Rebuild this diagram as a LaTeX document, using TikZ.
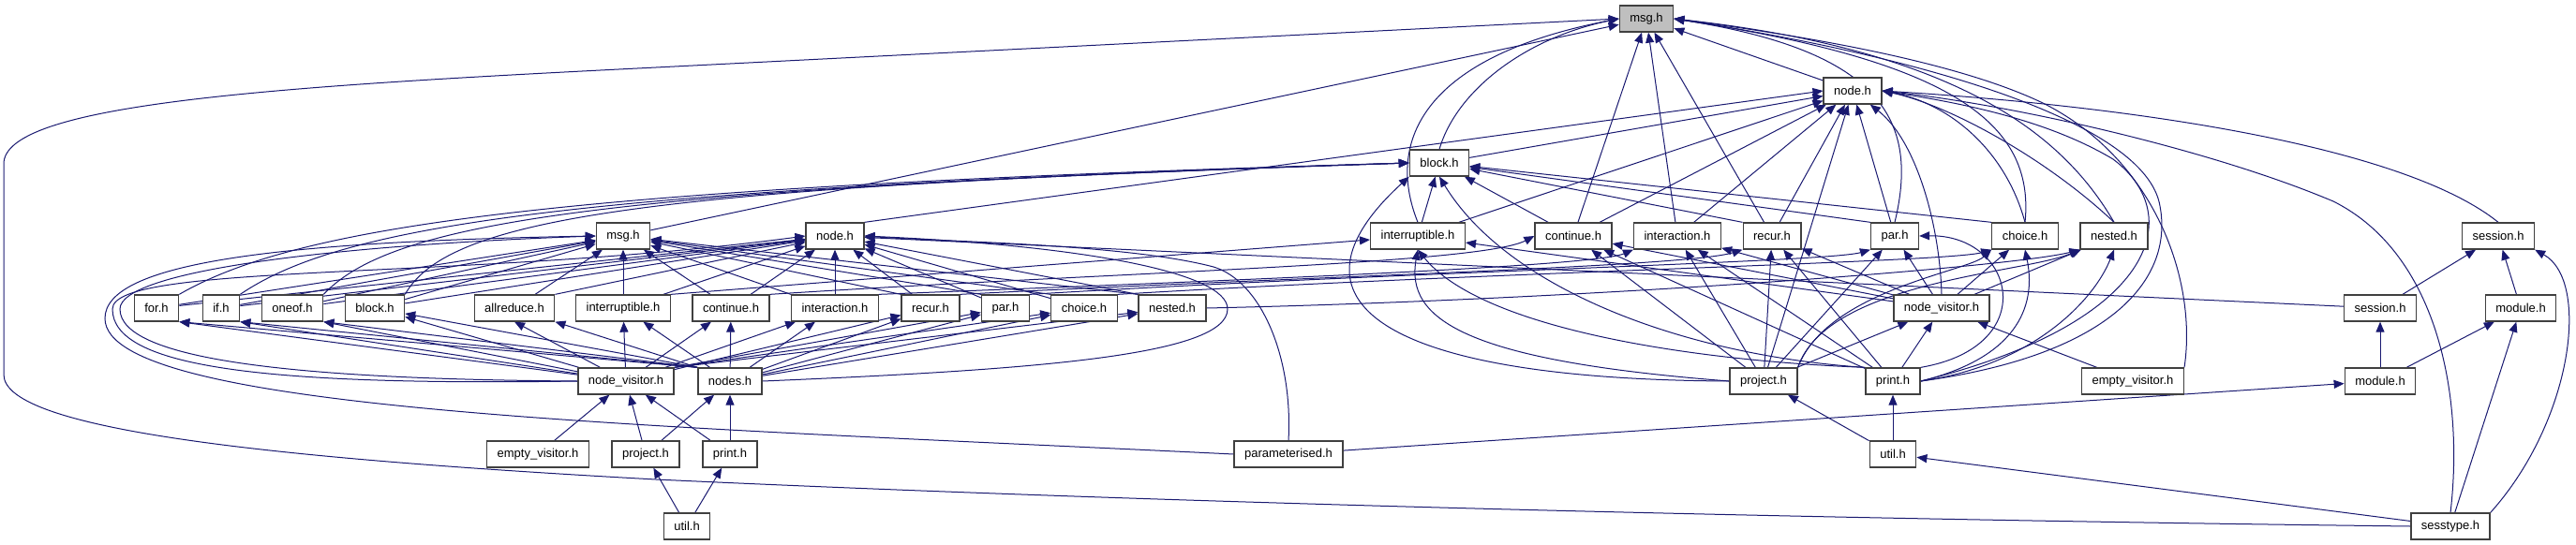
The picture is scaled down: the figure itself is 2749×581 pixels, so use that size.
\documentclass[tikz,border=0pt]{standalone}
\usepackage{fontspec}
\setmainfont{Liberation Sans}
\usetikzlibrary{arrows.meta, backgrounds}
\definecolor{incblue}{RGB}{25,25,112}
\definecolor{boxedge}{RGB}{64,64,64}
\definecolor{boxgray}{RGB}{191,191,191}
\begin{document}
\begin{tikzpicture}[x = 1pt, y = -1pt,
        hfile/.style = {draw = boxedge, fill = white, line width = 1.3pt, minimum height = 28pt, inner xsep = 11pt, inner ysep = 0pt, font = \fontsize{13}{15}\selectfont},
        inc/.style = {draw = incblue, line width = 1pt, -{Triangle[length = 11pt, width = 9pt]}}]

        \useasboundingbox (0, 0) rectangle (2749, 581);

        \draw (1757, 20) node[hfile, fill = boxgray] (msgA) {msg.h};
        \draw (1977, 97) node[hfile] (nodeA) {node.h};
        \draw (1536, 174) node[hfile] (blockA) {block.h};
        \draw (665, 252) node[hfile] (msgB) {msg.h};
        \draw (891, 252) node[hfile] (nodeB) {node.h};
        \draw (1513, 252) node[hfile] (intrA) {interruptible.h};
        \draw (1679, 252) node[hfile] (contA) {continue.h};
        \draw (1790, 252) node[hfile] (interA) {interaction.h};
        \draw (1891, 252) node[hfile] (recurA) {recur.h};
        \draw (2022, 252) node[hfile] (parA) {par.h};
        \draw (2161, 252) node[hfile] (choiceA) {choice.h};
        \draw (2256, 252) node[hfile] (nestedA) {nested.h};
        \draw (2666, 252) node[hfile] (sessA) {session.h};
        \draw (167, 329) node[hfile] (forB) {for.h};
        \draw (236, 329) node[hfile] (ifB) {if.h};
        \draw (312, 329) node[hfile] (oneofB) {oneof.h};
        \draw (400, 329) node[hfile] (blockB) {block.h};
        \draw (549, 329) node[hfile] (allredB) {allreduce.h};
        \draw (665, 329) node[hfile] (intrB) {interruptible.h};
        \draw (780, 329) node[hfile] (contB) {continue.h};
        \draw (891, 329) node[hfile] (interB) {interaction.h};
        \draw (993, 329) node[hfile] (recurB) {recur.h};
        \draw (1073, 329) node[hfile] (parB) {par.h};
        \draw (1157, 329) node[hfile] (choiceB) {choice.h};
        \draw (1251, 329) node[hfile] (nestedB) {nested.h};
        \draw (2072, 329) node[hfile] (nvA) {node\_visitor.h};
        \draw (2540, 329) node[hfile] (sessB) {session.h};
        \draw (2690, 329) node[hfile] (modA) {module.h};
        \draw (668, 407) node[hfile] (nvB) {node\_visitor.h};
        \draw (779, 407) node[hfile] (nodesB) {nodes.h};
        \draw (1882, 407) node[hfile] (projA) {project.h};
        \draw (2020, 407) node[hfile] (printA) {print.h};
        \draw (2276, 407) node[hfile] (evA) {empty\_visitor.h};
        \draw (2540, 407) node[hfile] (modB) {module.h};
        \draw (574, 485) node[hfile] (evB) {empty\_visitor.h};
        \draw (689, 485) node[hfile] (projB) {project.h};
        \draw (779, 485) node[hfile] (printB) {print.h};
        \draw (1375, 485) node[hfile] (paramB) {parameterised.h};
        \draw (2020, 485) node[hfile] (utilA) {util.h};
        \draw (733, 562) node[hfile] (utilB) {util.h};
        \draw (2615, 562) node[hfile] (sesstype) {sesstype.h};

        \begin{pgfonlayer}{background}
        % base headers
        \draw [inc] (nodeA) to (msgA);
        \draw [inc] (blockA.north) .. controls (1555, 95) and (1630, 40) .. (msgA.west);
        \draw [inc] (blockA) to (nodeA);
        \draw [inc] (intrA.north) .. controls (1478, 150) and (1520, 60) .. (msgA.west);
        \draw [inc] (intrA) to (nodeA);
        \draw [inc] (intrA) to (blockA);
        \draw [inc] (contA) to (msgA);
        \draw [inc] (contA) to (nodeA);
        \draw [inc] (contA) to (blockA);
        \draw [inc] (interA) to (msgA);
        \draw [inc] (interA) to (nodeA);
        \draw [inc] (recurA) to (msgA);
        \draw [inc] (recurA) to (nodeA);
        \draw [inc] (recurA.north west) to (blockA);
        \draw [inc] (parA.north) .. controls (2048, 130) and (2010, 55) .. (msgA.east);
        \draw [inc] (parA) to (nodeA);
        \draw [inc] (parA.north west) to (blockA);
        \draw [inc] (choiceA.north) .. controls (2172, 130) and (2080, 65) .. (msgA.east);
        \draw [inc] (choiceA.north) .. controls (2140, 160) and (2080, 110) .. (nodeA.east);
        \draw [inc] (choiceA.north west) to (blockA);
        \draw [inc] (nestedA.north) .. controls (2205, 150) and (2100, 55) .. (msgA.east);
        \draw [inc] (nestedA.north) .. controls (2185, 170) and (2080, 112) .. (nodeA.east);

        % visitor, project, print
        \draw [inc] (nvA.north) .. controls (2070, 240) and (2045, 150) .. (nodeA);
        \draw [inc] (nvA) to (intrA);
        \draw [inc] (nvA) to (contA);
        \draw [inc] (nvA) to (interA);
        \draw [inc] (nvA) to (recurA);
        \draw [inc] (nvA) to (parA);
        \draw [inc] (nvA) to (choiceA);
        \draw [inc] (nvA) to (nestedA);
        \draw [inc] (projA) to (nodeA);
        \draw [inc] (projA.west) .. controls (1470, 405) and (1360, 320) .. (blockA.south west);
        \draw [inc] (projA.west) .. controls (1560, 385) and (1500, 340) .. (intrA.south);
        \draw [inc] (projA) to (nvA);
        \draw [inc] (projA) to (contA);
        \draw [inc] (projA) to (interA);
        \draw [inc] (projA) to (recurA);
        \draw [inc] (projA) to (parA);
        \draw [inc] (projA.north east) .. controls (1950, 310) and (2100, 290) .. (choiceA.south west);
        \draw [inc] (projA.north east) .. controls (1950, 300) and (2160, 292) .. (nestedA.south west);
        \draw [inc] (printA.east) .. controls (2250, 380) and (2320, 300) .. (2305, 220) .. controls (2290, 130) and (2050, 60) .. (msgA.east);
        \draw [inc] (printA.east) .. controls (2300, 345) and (2335, 230) .. (2255, 170) .. controls (2180, 125) and (2080, 108) .. (nodeA.east);
        \draw [inc] (printA.north west) .. controls (1800, 380) and (1610, 310) .. (blockA.south);
        \draw [inc] (printA.north west) .. controls (1800, 385) and (1580, 350) .. (intrA.south);
        \draw [inc] (printA) to (nvA);
        \draw [inc] (printA) to (contA);
        \draw [inc] (printA) to (interA);
        \draw [inc] (printA) to (recurA);
        \draw [inc] (printA.north east) .. controls (2180, 370) and (2150, 250) .. (parA.east);
        \draw [inc] (printA.east) .. controls (2160, 380) and (2172, 320) .. (choiceA.south);
        \draw [inc] (printA.east) .. controls (2170, 390) and (2235, 320) .. (nestedA.south);
        \draw [inc] (evA) to (nvA);
        \draw [inc] (evA.north east) .. controls (2345, 300) and (2300, 170) .. (2180, 110) .. controls (2080, 62) and (1900, 35) .. (msgA.east);
        \draw [inc] (utilA) to (projA);
        \draw [inc] (utilA) to (printA);

        % sessions, modules, sesstype
        \draw [inc] (sessA.north) .. controls (2570, 160) and (2300, 115) .. (nodeA.east);
        \draw [inc] (sessB) to (sessA);
        \draw [inc] (sessB) to (nodeB);
        \draw [inc] (modA) to (sessA);
        \draw [inc] (modB) to (sessB);
        \draw [inc] (modB) to (modA);
        \draw [inc] (sesstype.west) .. controls (2000, 555) and (1300, 540) .. (700, 512) .. controls (300, 490) and (4, 460) .. (4, 400) -- (4, 175) .. controls (4, 110) and (300, 92) .. (700, 72) -- (msgA.west);
        \draw [inc] (sesstype.north) .. controls (2630, 420) and (2600, 270) .. (2490, 215) .. controls (2360, 160) and (2150, 112) .. (nodeA.east);
        \draw [inc] (sesstype.north east) .. controls (2745, 450) and (2765, 300) .. (sessA.south east);
        \draw [inc] (sesstype) to (modA);
        \draw [inc] (sesstype) to (utilA);

        % parameterised headers
        \draw [inc] (msgB) to (msgA);
        \draw [inc] (nodeB.north east) to (nodeA.west);
        \draw [inc] (forB.north east) .. controls (320, 240) and (600, 200) .. (blockA.west);
        \draw [inc] (ifB.north east) .. controls (370, 237) and (630, 202) .. (blockA.west);
        \draw [inc] (oneofB.north east) .. controls (420, 235) and (650, 202) .. (blockA.west);
        \draw [inc] (blockB.north east) .. controls (480, 230) and (700, 200) .. (blockA.west);
        \draw [inc] (forB) to (msgB);
        \draw [inc] (ifB) to (msgB);
        \draw [inc] (oneofB) to (msgB);
        \draw [inc] (blockB) to (msgB);
        \draw [inc] (allredB) to (msgB);
        \draw [inc] (intrB) to (msgB);
        \draw [inc] (contB) to (msgB);
        \draw [inc] (interB.north west) to (msgB);
        \draw [inc] (recurB.north west) to (msgB);
        \draw [inc] (parB.north west) to (msgB);
        \draw [inc] (choiceB.north west) to (msgB);
        \draw [inc] (nestedB.north west) to (msgB);
        \draw [inc] (forB) to (nodeB);
        \draw [inc] (ifB) to (nodeB);
        \draw [inc] (oneofB) to (nodeB);
        \draw [inc] (blockB) to (nodeB);
        \draw [inc] (allredB.north east) to (nodeB);
        \draw [inc] (intrB) to (nodeB);
        \draw [inc] (contB) to (nodeB);
        \draw [inc] (interB) to (nodeB);
        \draw [inc] (recurB) to (nodeB);
        \draw [inc] (parB) to (nodeB);
        \draw [inc] (choiceB) to (nodeB);
        \draw [inc] (nestedB.north west) to (nodeB);
        \draw [inc] (intrB.north east) to (intrA);
        \draw [inc] (contB.north east) .. controls (1200, 290) and (1580, 282) .. (contA.west);
        \draw [inc] (interB.north east) .. controls (1300, 300) and (1700, 285) .. (interA.south west);
        \draw [inc] (recurB.north east) .. controls (1400, 295) and (1800, 285) .. (recurA.south west);
        \draw [inc] (parB.north east) .. controls (1500, 290) and (1950, 280) .. (parA.south west);
        \draw [inc] (choiceB.north east) .. controls (1600, 290) and (2080, 280) .. (choiceA.south west);
        \draw [inc] (nestedB.east) .. controls (1700, 320) and (2150, 285) .. (nestedA.south west);

        % parameterised visitor and node list
        \draw [inc] (nvB) to (forB.south east);
        \draw [inc] (nvB) to (ifB.south east);
        \draw [inc] (nvB) to (oneofB.south east);
        \draw [inc] (nvB) to (blockB);
        \draw [inc] (nvB) to (allredB.south);
        \draw [inc] (nvB) to (intrB);
        \draw [inc] (nvB) to (contB);
        \draw [inc] (nvB) to (interB);
        \draw [inc] (nvB) to (recurB);
        \draw [inc] (nvB.north east) to (parB);
        \draw [inc] (nvB.north east) to (choiceB);
        \draw [inc] (nvB.north east) to (nestedB);
        \draw [inc] (nodesB.north west) to (forB.south east);
        \draw [inc] (nodesB.north west) to (ifB.south east);
        \draw [inc] (nodesB.north west) to (oneofB.south east);
        \draw [inc] (nodesB.north west) to (blockB);
        \draw [inc] (nodesB.north west) to (allredB.south east);
        \draw [inc] (nodesB) to (intrB);
        \draw [inc] (nodesB) to (contB);
        \draw [inc] (nodesB) to (interB);
        \draw [inc] (nodesB) to (recurB);
        \draw [inc] (nodesB) to (parB);
        \draw [inc] (nodesB) to (choiceB);
        \draw [inc] (nodesB) to (nestedB);
        \draw [inc] (nvB.west) .. controls (320, 405) and (128, 385) .. (128, 330) .. controls (128, 290) and (350, 262) .. (msgB.west);
        \draw [inc] (nvB.west) .. controls (280, 412) and (120, 392) .. (120, 330) .. controls (120, 280) and (500, 300) .. (nodeB.west);
        \draw [inc] (paramB.west) .. controls (700, 455) and (112, 440) .. (112, 340) .. controls (112, 280) and (300, 258) .. (msgB.west);
        \draw [inc] (paramB.north) .. controls (1380, 380) and (1345, 300) .. (1295, 285) .. controls (1200, 260) and (1000, 258) .. (nodeB.east);
        \draw [inc] (nodesB.east) .. controls (1100, 395) and (1310, 380) .. (1310, 330) .. controls (1310, 290) and (1150, 262) .. (nodeB.east);
        \draw [inc] (paramB) to (modB);
        \draw [inc] (projB) to (nvB);
        \draw [inc] (projB) to (nodesB);
        \draw [inc] (printB) to (nvB);
        \draw [inc] (printB) to (nodesB);
        \draw [inc] (evB) to (nvB);
        \draw [inc] (utilB) to (projB);
        \draw [inc] (utilB) to (printB);
        \end{pgfonlayer}
\end{tikzpicture}
\end{document}
